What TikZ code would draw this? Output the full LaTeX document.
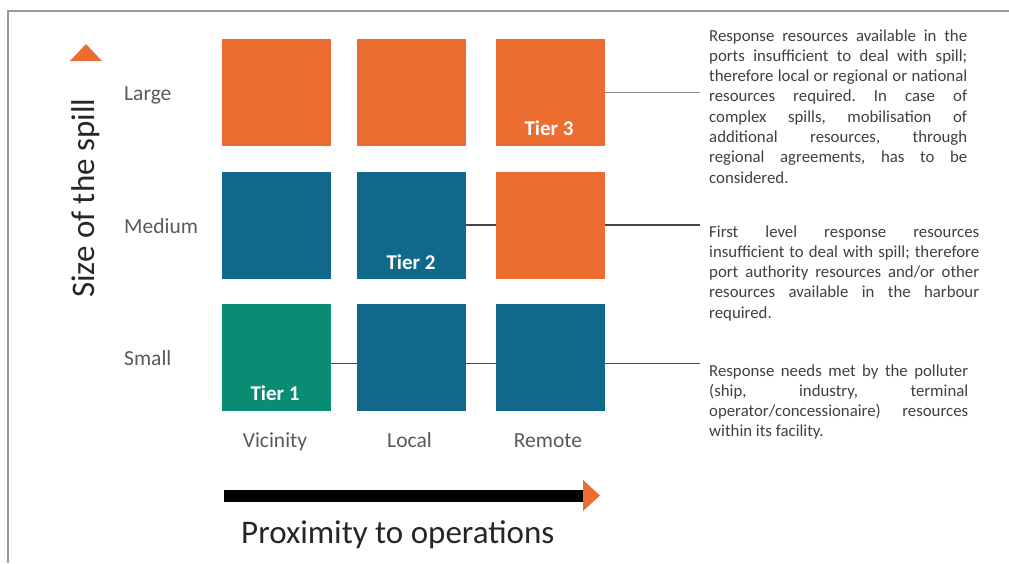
\documentclass[tikz,border=0pt]{standalone}
\usepackage{fontspec}
\setmainfont{Carlito}
\definecolor{cOr}{RGB}{237,108,48}
\definecolor{cBl}{RGB}{16,105,138}
\definecolor{cGr}{RGB}{8,140,115}
\definecolor{cTx}{RGB}{64,64,64}
\definecolor{cLb}{RGB}{89,89,89}
\definecolor{cLn}{RGB}{70,70,70}
\newcommand\myjust[2]{\makebox[#1][s]{#2}}
\frenchspacing
\tikzset{
  sq/.style={minimum width=109pt, minimum height=107pt, inner sep=0pt, draw=none},
  tier/.style={text=white, font=\fontsize{21}{24}\selectfont\bfseries, inner sep=0pt},
  lab/.style={text=cLb, font=\fontsize{21.5}{24}\selectfont, inner sep=0pt},
  desc/.style={text=cTx, font=\fontsize{16.8}{20.3}\selectfont, inner sep=0pt},
  conn/.style={draw=cLn, line width=1.3pt},
  big/.style={text=black!85, font=\fontsize{33}{36}\selectfont, inner sep=0pt}
}
\begin{document}
\begin{tikzpicture}[x=1pt,y=-1pt]
\useasboundingbox (0,0) rectangle (1009,563);
\fill[white] (0,0) rectangle (1009,563);
% frame
\draw[gray!80, line width=1.3pt] (8,563) -- (8,11) -- (1009,11);
% squares
\node[sq, fill=cOr] (L1) at (276.5,92.5) {};
\node[sq, fill=cOr] (L2) at (411.5,92.5) {};
\node[sq, fill=cOr] (L3) at (550.5,92.5) {};
\node[sq, fill=cBl] (M1) at (276.5,225) {};
\node[sq, fill=cBl] (M2) at (411.5,225) {};
\node[sq, fill=cOr] (M3) at (550.5,225) {};
\node[sq, fill=cGr] (S1) at (276.5,357.5) {};
\node[sq, fill=cBl] (S2) at (411.5,357.5) {};
\node[sq, fill=cBl] (S3) at (550.5,357.5) {};
% tier labels
\node[tier, anchor=base] (t3) at (549,135) {Tier 3};
\node[tier, anchor=base] (t2) at (411,269) {Tier 2};
\node[tier, anchor=base] (t1) at (275,400) {Tier 1};
% connector ends
\coordinate (e1) at (700,92.5);
\coordinate (e2) at (700,225);
\coordinate (e3) at (700,363.5);
\draw[conn, draw=gray!90] (L3.east) -- (e1);
\draw[conn] (M2.east) -- (M3.west);
\draw[conn] (M3.east) -- (e2);
\draw[conn] ([yshift=-6pt]S1.east) -- ([yshift=-6pt]S2.west);
\draw[conn] ([yshift=-6pt]S2.east) -- ([yshift=-6pt]S3.west);
\draw[conn] ([yshift=-6pt]S3.east) -- (e3);
% row labels
\node[lab, anchor=base west] (rL) at (124,100) {Large};
\node[lab, anchor=base west] (rM) at (124,233) {Medium};
\node[lab, anchor=base west] (rS) at (124,365) {Small};
% column labels
\node[lab, anchor=base] (cV) at (275,447) {Vicinity};
\node[lab, anchor=base] (cL) at (409.5,447) {Local};
\node[lab, anchor=base] (cR) at (548,447) {Remote};
% axis titles
\node[big, rotate=90, anchor=base west] (ys) at (94,298) {Size of the spill};
\fill[cOr] (70,61) -- (86,44) -- (102,61) -- cycle;
\node[big, anchor=base west] (xs) at (241,543) {Proximity to operations};
\draw[black, line width=12pt] (224,495.5) -- (584,495.5);
\fill[cOr] (583,480) -- (600,495.5) -- (583,511) -- cycle;
% descriptions
\node[desc, anchor=base west] (d1) at (709,41) {\begin{tabular}[t]{@{}l@{}}
\myjust{258pt}{Response resources available in the}\\
\myjust{258pt}{ports insufficient to deal with spill;}\\
\myjust{258pt}{therefore local or regional or national}\\
\myjust{258pt}{resources required. In case of}\\
\myjust{258pt}{complex spills, mobilisation of}\\
\myjust{258pt}{additional resources, through}\\
\myjust{258pt}{regional agreements, has to be}\\
considered.
\end{tabular}};
\node[desc, anchor=base west] (d2) at (709,237) {\begin{tabular}[t]{@{}l@{}}
\myjust{270pt}{First level response resources}\\
\myjust{270pt}{insufficient to deal with spill; therefore}\\
\myjust{270pt}{port authority resources and/or other}\\
\myjust{270pt}{resources available in the harbour}\\
required.
\end{tabular}};
\node[desc, anchor=base west] (d3) at (709,376) {\begin{tabular}[t]{@{}l@{}}
\myjust{259pt}{Response needs met by the polluter}\\
\myjust{259pt}{(ship, industry, terminal}\\
\myjust{259pt}{operator/concessionaire) resources}\\
within its facility.
\end{tabular}};
\end{tikzpicture}
\end{document}
